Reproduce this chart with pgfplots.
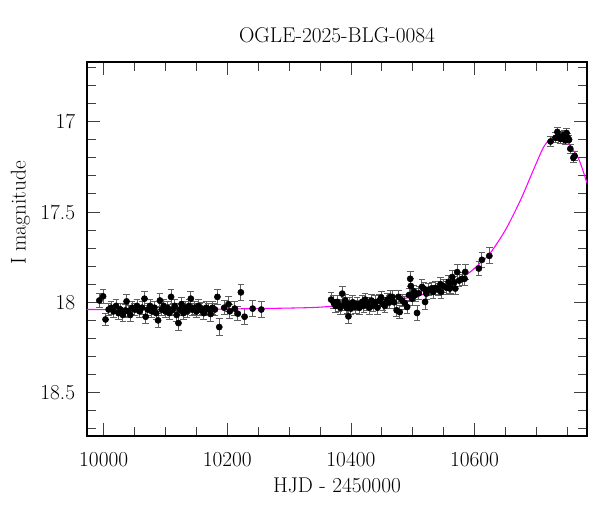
\documentclass[border=0pt]{standalone}
\usepackage{fontspec}
\usepackage{pgfplots}
\pgfplotsset{compat=1.18}
\usepackage{pgfplotstable}
\definecolor{ebar}{RGB}{95,95,95}
\definecolor{model}{RGB}{255,0,255}

\pgfplotstableread{
t mag err
9993 17.990 0.040
9999 17.967 0.040
10003 18.095 0.035
10008 18.040 0.035
10012 18.030 0.035
10016 18.050 0.035
10020 18.020 0.035
10024 18.060 0.035
10027 18.040 0.035
10031 18.070 0.035
10035 18.045 0.035
10037 17.995 0.040
10040 18.050 0.035
10043 18.070 0.035
10046 18.030 0.035
10050 18.040 0.035
10054 18.020 0.035
10058 18.050 0.035
10062 18.030 0.035
10066 17.980 0.040
10068 18.080 0.040
10071 18.040 0.035
10075 18.020 0.035
10078 18.050 0.035
10082 18.030 0.035
10085 18.060 0.035
10088 18.100 0.040
10091 17.990 0.040
10094 18.040 0.035
10097 18.020 0.035
10100 18.050 0.035
10103 18.030 0.035
10106 18.060 0.035
10109 17.970 0.040
10112 18.040 0.035
10115 18.020 0.035
10118 18.070 0.035
10121 18.115 0.040
10123 18.040 0.035
10126 18.010 0.035
10129 18.060 0.035
10132 18.030 0.035
10135 18.050 0.035
10138 18.020 0.035
10141 17.980 0.040
10144 18.040 0.035
10147 18.030 0.035
10150 18.050 0.035
10153 18.020 0.035
10156 18.040 0.035
10159 18.035 0.035
10162 18.060 0.035
10166 18.030 0.035
10170 18.040 0.035
10173 18.065 0.040
10176 18.030 0.035
10180 18.040 0.035
10184 17.970 0.040
10187 18.137 0.045
10195 18.030 0.040
10202 18.010 0.040
10204 18.050 0.040
10212 18.035 0.040
10217 18.063 0.040
10222 17.945 0.045
10228 18.080 0.045
10241 18.035 0.045
10255 18.040 0.045
}\seasonA

\pgfplotstableread{
t mag err
10368 17.985 0.040
10372 18.000 0.035
10375 18.020 0.035
10378 17.998 0.035
10380 18.017 0.035
10383 18.030 0.035
10386 17.952 0.040
10389 18.010 0.035
10391 17.990 0.035
10393 18.030 0.035
10395 18.026 0.035
10396 18.078 0.040
10398 18.010 0.035
10400 18.035 0.035
10403 18.000 0.035
10407 18.026 0.035
10410 18.010 0.035
10414 18.030 0.035
10418 17.998 0.035
10421 18.020 0.035
10423 17.985 0.035
10426 18.010 0.035
10430 18.030 0.035
10433 17.990 0.035
10436 18.017 0.035
10440 18.000 0.035
10443 18.030 0.035
10446 17.990 0.035
10449 17.974 0.035
10452 18.010 0.035
10455 18.020 0.035
10459 17.985 0.035
10462 18.000 0.035
10464 17.970 0.035
10467 17.970 0.035
10470 18.000 0.035
10474 18.044 0.035
10477 17.970 0.035
10479 18.054 0.035
10483 17.990 0.035
10487 18.004 0.035
10491 18.026 0.035
10494 17.960 0.035
10496 17.870 0.040
10497 17.910 0.040
10499 17.980 0.035
10502 17.940 0.035
10504 17.960 0.035
10507 18.059 0.040
10510 17.950 0.035
10515 17.915 0.040
10518 17.924 0.035
10520 17.998 0.040
10522 17.952 0.035
10526 17.930 0.035
10531 17.924 0.035
10533 17.943 0.035
10537 17.920 0.035
10541 17.930 0.035
10545 17.900 0.040
10546 17.943 0.035
10550 17.910 0.035
10555 17.920 0.035
10558 17.887 0.035
10560 17.924 0.035
10561 17.915 0.035
10564 17.860 0.035
10567 17.890 0.035
10569 17.924 0.035
10572 17.833 0.040
10575 17.880 0.035
10580 17.870 0.035
10584 17.870 0.035
10585 17.832 0.040
10607 17.813 0.040
10612 17.765 0.040
10624 17.743 0.045
10723 17.110 0.028
10731 17.090 0.028
10734 17.057 0.024
10737 17.080 0.024
10739 17.096 0.024
10742 17.085 0.024
10745 17.072 0.024
10747 17.104 0.024
10749 17.063 0.024
10751 17.090 0.024
10753 17.100 0.024
10755 17.150 0.024
10760 17.200 0.024
10762 17.190 0.024
}\seasonB

\pgfplotstableread{
t mag
9973 18.040
10100 18.040
10200 18.037
10300 18.032
10350 18.027
10400 18.012
10450 17.998
10500 17.970
10533 17.940
10560 17.905
10590 17.840
10610 17.780
10625 17.730
10650 17.600
10675 17.430
10695 17.270
10712 17.140
10725 17.090
10735 17.078
10745 17.095
10756 17.140
10769 17.210
10782 17.340
}\model

\begin{document}
\fontsize{16}{19}\selectfont
\begin{tikzpicture}
\begin{axis}[
  scale only axis,
  width=375pt, height=280.5pt,
  xmin=9973, xmax=10782,
  ymin=16.67, ymax=18.74,
  y dir=reverse,
  title={OGLE-2025-BLG-0084},
  title style={yshift=2.5pt},
  xlabel={HJD - 2450000},
  ylabel={I magnitude},
  xlabel style={at={(axis description cs:0.5,0)}, anchor=north, yshift=-26pt},
  ylabel style={at={(axis description cs:-0.133,0.596)}, anchor=center},
  xtick={10000,10200,10400,10600},
  minor xtick={10050,10100,10150,10250,10300,10350,10450,10500,10550,10650,10700,10750},
  ytick={17,17.5,18,18.5},
  minor ytick={16.7,16.8,16.9,17.1,17.2,17.3,17.4,17.6,17.7,17.8,17.9,18.1,18.2,18.3,18.4,18.6,18.7},
  scaled x ticks=false,
  /pgf/number format/1000 sep={},
  /pgf/number format/assume math mode=true,
  xticklabel style={yshift=-7pt},
  yticklabel style={xshift=-3.4pt},
  tick align=inside,
  major tick length=10pt,
  minor tick length=6.5pt,
  tick style={black!75, line width=0.6pt},
  axis line style={line width=0.8pt},
  xtick pos=both, ytick pos=both,
]
\addplot[only marks, mark=*, mark size=2.3pt, black,
  error bars/.cd, y dir=both, y explicit,
  error bar style={ebar, line width=0.75pt},
  error mark options={ebar, rotate=90, mark size=2.5pt, line width=0.75pt}]
  table[x=t, y=mag, y error=err] {\seasonA};
\addplot[only marks, mark=*, mark size=2.3pt, black,
  error bars/.cd, y dir=both, y explicit,
  error bar style={ebar, line width=0.75pt},
  error mark options={ebar, rotate=90, mark size=2.5pt, line width=0.75pt}]
  table[x=t, y=mag, y error=err] {\seasonB};
\addplot[model, line width=0.8pt, smooth, no marks] table[x=t, y=mag] {\model};
\end{axis}
\pgfresetboundingbox
\path[use as bounding box] ([xshift=-65.25pt,yshift=-57pt]current axis.south west) rectangle ([xshift=9.75pt,yshift=46.5pt]current axis.north east);
\end{tikzpicture}
\end{document}
